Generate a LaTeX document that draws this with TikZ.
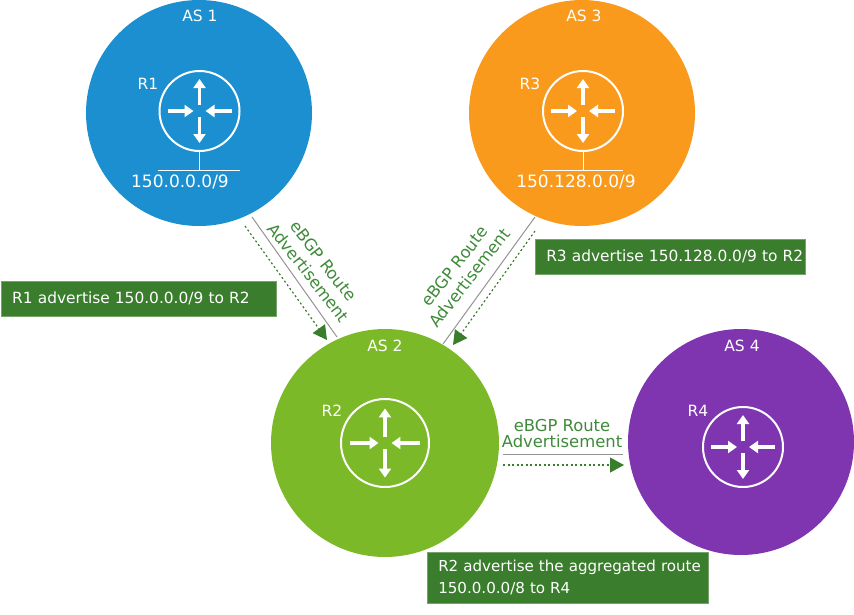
\documentclass[tikz,border=0pt]{standalone}
\usepackage{fontspec}
\setmainfont{DejaVu Sans}
\usetikzlibrary{arrows.meta}

\definecolor{noteGreen}{HTML}{3A7D2C}
\definecolor{textGreen}{HTML}{3F8A3A}
\definecolor{asBlue}{HTML}{1B8FCF}
\definecolor{asOrange}{HTML}{FA9A1C}
\definecolor{asGreen}{HTML}{7CB928}
\definecolor{asPurple}{HTML}{7F35B0}

\newcommand{\routerarrows}[2]{%
	\begin{scope}[shift={(#1)},scale=#2]
		\foreach \angle in {0,180} {
			\draw[router arrow,rotate=\angle] (-32,0) -- (-6,0);
		}
		\foreach \angle in {0,180} {
			\draw[router arrow,rotate=\angle] (0,-6) -- (0,-32);
		}
	\end{scope}
}

\begin{document}
\begin{tikzpicture}
		[x=1pt,y=-1pt,line cap=butt,
		%Styles
		as disk/.style={circle,fill=#1,inner sep=0pt,outer sep=0pt,minimum size=226pt},
		router disk/.style={circle,draw=white,line width=2pt,inner sep=0pt,minimum size=80pt},
		router arrow/.style={white,line width=3.6pt,-{Triangle[length=9pt,width=12pt]}},
		white text/.style={text=white,font=\fontsize{15.5}{18}\selectfont},
		net text/.style={text=white,font=\fontsize{17}{18}\selectfont},
		note/.style={fill=noteGreen,draw=noteGreen!70!white,line width=.5pt,anchor=north west,text=white,
			font=\fontsize{15.4}{23}\selectfont,align=left,inner sep=0pt},
		edge text/.style={textGreen,align=center,font=\fontsize{16.4}{#1}\selectfont},
		link/.style={gray!85,line width=1pt},
		advert/.style={noteGreen,line width=1.2pt,dash pattern=on 2pt off 2.5pt,
			-{Triangle[length=14pt,width=15pt]}}
		]
		\useasboundingbox (0,0) rectangle (854,614);
		
		%The AS circles
		\node[as disk=asBlue] (as1) at (199,113) {};
		\node[as disk=asOrange] (as3) at (582,113) {};
		\node[as disk=asGreen,minimum size=228pt] (as2) at (385,443) {};
		\node[as disk=asPurple] (as4) at (741,442) {};
		
		\node[white text] (as1name) at (200,16) {AS 1};
		\node[white text] (as3name) at (584,16) {AS 3};
		\node[white text] (as2name) at (385,346) {AS 2};
		\node[white text] (as4name) at (742,346) {AS 4};
		
		%Routers
		\node[router disk] (r1) at (199.5,111) {};
		\node[router disk] (r3) at (583,111) {};
		\node[router disk,minimum size=88pt] (r2) at (385,443) {};
		\node[router disk] (r4) at (743,447) {};
		
		\routerarrows{r1}{1}
		\routerarrows{r3}{1}
		\routerarrows{r2}{1.08}
		\routerarrows{r4}{1}
		
		\node[white text] (r1name) at (148,84) {R1};
		\node[white text] (r3name) at (530,84) {R3};
		\node[white text] (r2name) at (332,411) {R2};
		\node[white text] (r4name) at (698,411) {R4};
		
		%Networks
		\coordinate (net1) at (199.5,170);
		\coordinate (net3) at (583,170);
		\draw[white] (r1.south) -- (net1);
		\draw[white] (r3.south) -- (net3);
		\draw[white] ([xshift=-42pt]net1) -- ([xshift=40pt]net1);
		\draw[white] ([xshift=-40pt]net3) -- ([xshift=40pt]net3);
		\node[net text] (net1name) at (180,182) {150.0.0.0/9};
		\node[net text] (net3name) at (576,182) {150.128.0.0/9};
		
		%Links and advertisements
		\coordinate (l1a) at (252,217);
		\coordinate (l1b) at (337,337);
		\coordinate (d1a) at (245,226);
		\coordinate (d1b) at (327,340);
		\coordinate (l3a) at (535,217);
		\coordinate (l3b) at (443,344);
		\coordinate (d3a) at (535,231);
		\coordinate (d3b) at (453,345);
		\coordinate (l4a) at (503,454);
		\coordinate (l4b) at (623,454);
		\coordinate (d4a) at (503,465);
		\coordinate (d4b) at (624,465);
		
		\draw[link] (l1a) -- (l1b);
		\draw[advert] (d1a) -- (d1b);
		\draw[link] (l3a) -- (l3b);
		\draw[advert] (d3a) -- (d3b);
		\draw[link] (l4a) -- (l4b);
		\draw[advert] (d4a) -- (d4b);
		
		\node[edge text=19,rotate=-52] (edge1) at (316,267) {eBGP Route\\Advertisement};
		\node[edge text=19,rotate=52] (edge3) at (462,272) {eBGP Route\\Advertisement};
		\node[edge text=16] (edge4) at (562,434) {eBGP Route\\Advertisement};
		
		%Notes
		\node[note,minimum width=275pt,minimum height=35pt,text width=275pt] (note1) at (1,281)
			{\hspace*{11pt}R1 advertise 150.0.0.0/9 to R2};
		\node[note,minimum width=270pt,minimum height=35pt,text width=270pt] (note3) at (535,239)
			{\hspace*{11pt}R3 advertise 150.128.0.0/9 to R2};
		\node[note,minimum width=281pt,minimum height=51pt,text width=281pt,
			font=\fontsize{15.1}{22}\selectfont] (note2) at (427,552)
			{\hspace*{11pt}R2 advertise the aggregated route\\\hspace*{11pt}150.0.0.0/8 to R4};
	\end{tikzpicture}
\end{document}
